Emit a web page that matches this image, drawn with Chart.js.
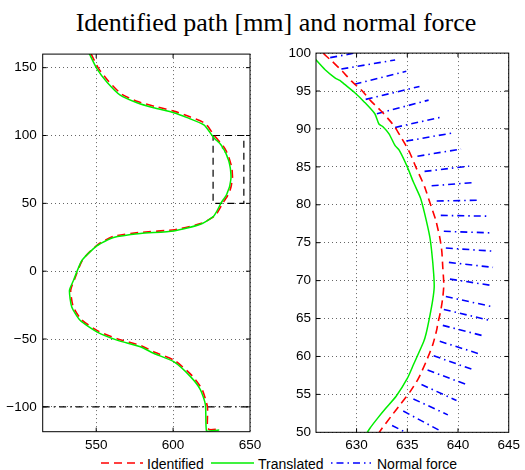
<!DOCTYPE html>
<html>
<head>
<meta charset="utf-8">
<title>Identified path [mm] and normal force</title>
<script src="https://cdn.jsdelivr.net/npm/chart.js@4.4.0/dist/chart.umd.min.js"></script>
<style>
  body { margin: 0; background: #fff; }
  #wrap { position: relative; width: 525px; height: 470px; overflow: hidden; font-family: "Liberation Sans", Arial, sans-serif; color: #000; }
  #titulo { position: absolute; left: 26px; top: 8px; width: 500px; text-align: center; white-space: nowrap;
            font-family: "Liberation Serif", "Times New Roman", serif; font-size: 26px; line-height: 30px; }
  canvas { position: absolute; }
  .muestra { position: absolute; top: 458px; }
  .etiqueta { position: absolute; top: 455px; font-size: 14px; line-height: 18px; white-space: nowrap; }
</style>
</head>
<body>
<div id="wrap">
  <div id="titulo">Identified path [mm] and normal force</div>
  <canvas id="graficoIzq" width="270" height="415" style="left:0px; top:40px; width:270px; height:415px;"></canvas>
  <canvas id="graficoDer" width="255" height="415" style="left:270px; top:40px; width:255px; height:415px;"></canvas>

  <svg class="muestra" style="left:101px" width="42" height="10"><line x1="0" y1="5" x2="42" y2="5" stroke="#ff0000" stroke-width="1.6" stroke-dasharray="8 5"/></svg>
  <div class="etiqueta" style="left:147px">Identified</div>
  <svg class="muestra" style="left:211px" width="43" height="10"><line x1="0" y1="5" x2="43" y2="5" stroke="#00ee00" stroke-width="1.5"/></svg>
  <div class="etiqueta" style="left:258px">Translated</div>
  <svg class="muestra" style="left:331px" width="40" height="10"><line x1="0" y1="5" x2="40" y2="5" stroke="#0000ff" stroke-width="1.6" stroke-dasharray="1.5 4 7 4"/></svg>
  <div class="etiqueta" style="left:377px">Normal force</div>
</div>

<script>
// Datos (mm)

// Trayectoria identificada (roja, discontinua)
const identX = [546.5, 551.5, 558.0, 566.5, 577.0, 588.0, 601.0, 610.0, 621.0, 626.7, 627.6, 628.6, 629.5, 630.5, 631.4, 632.4, 633.4, 633.8, 634.3, 634.7, 635.3, 635.9, 636.7, 637.2, 637.8, 638.2, 638.4, 638.5, 638.6, 638.5, 638.3, 638.0, 637.9, 637.5, 636.85, 636.1, 635.3, 634.3, 633.4, 632.5, 627.5, 618.5, 601.0, 579.0, 561.5, 551.0, 541.2, 535.8, 533.4, 535.0, 540.3, 551.0, 564.0, 579.3, 588.0, 601.2, 612.3, 618.8, 622.3, 622.3, 624.0, 630.5];
const identY = [160.5, 149.5, 140.0, 130.5, 125.0, 121.5, 117.8, 114.2, 108.8, 100.0, 98.9, 97.6, 96.3, 95.1, 93.7, 92.4, 90.9, 90.2, 89.1, 88.2, 86.7, 84.8, 82.4, 80.4, 78.0, 75.7, 73.9, 71.7, 69.5, 67.8, 66.05, 64.3, 63.5, 61.5, 59.3, 57.1, 55.4, 53.65, 52.1, 50.5, 41.2, 35.3, 30.6, 28.6, 25.8, 19.6, 8.5, -6.2, -14.0, -26.0, -35.6, -44.0, -50.0, -54.9, -59.7, -66.0, -77.0, -87.0, -100.0, -115.5, -116.8, -116.3];

// Trayectoria trasladada (verde, continua)
const trasX = [545.4, 550.4, 556.9, 565.6, 576.5, 587.3, 600.4, 609.1, 620.0, 625.4, 626.0, 626.9, 627.9, 628.35, 628.8, 629.8, 630.8, 631.8, 632.2, 632.6, 633.2, 633.8, 634.2, 635.0, 635.6, 636.3, 636.7, 637.2, 637.4, 637.6, 637.65, 637.5, 637.2, 636.85, 636.6, 635.6, 635.0, 633.9, 632.9, 632.1, 631.3, 626.5, 617.8, 600.4, 578.7, 561.3, 550.4, 540.6, 535.2, 532.6, 534.1, 539.5, 550.4, 563.5, 578.7, 587.3, 600.4, 611.3, 617.8, 621.0, 621.7, 625.0, 630.0];
const trasY = [160.5, 149.3, 139.5, 129.8, 124.2, 120.5, 116.8, 113.2, 107.8, 100.0, 99.1, 97.8, 96.7, 96.4, 95.9, 94.8, 93.5, 92.0, 90.65, 90.3, 89.35, 87.8, 87.2, 85.0, 83.0, 80.9, 78.9, 75.9, 73.9, 70.9, 69.1, 67.4, 65.2, 63.0, 61.9, 58.9, 57.1, 54.75, 53.2, 51.9, 50.5, 40.7, 34.6, 29.7, 27.7, 24.8, 18.7, 7.7, -6.9, -14.2, -26.4, -36.2, -44.7, -50.8, -55.7, -60.5, -66.7, -77.7, -87.4, -98.4, -117.8, -117.6, -117.1];

// Fuerza normal: segmentos (inicio -> fin)
const fuerzaX0 = [627.4, 628.5, 629.8, 630.9, 632.0, 633.8, 634.9, 636.0, 636.7, 637.4, 637.9, 638.3, 638.6, 638.8, 639.1, 639.2, 638.8, 638.6, 638.5, 638.2, 637.6, 637.0, 636.4, 635.6, 634.6, 633.5];
const fuerzaY0 = [99.4, 97.9, 95.9, 93.9, 92.0, 90.2, 88.4, 86.4, 84.4, 82.5, 80.5, 78.6, 76.5, 74.3, 72.4, 70.2, 67.9, 66.2, 64.1, 62.0, 60.1, 58.2, 56.3, 54.4, 52.8, 50.9];
const fuerzaX1 = [632.6, 633.8, 634.9, 636.2, 637.1, 638.5, 639.6, 640.3, 641.1, 641.7, 642.2, 642.8, 643.1, 643.3, 643.45, 643.4, 643.25, 643.0, 642.7, 642.2, 641.6, 640.85, 639.85, 639.0, 638.1, 636.9];
const fuerzaY1 = [100.7, 99.1, 97.6, 95.6, 93.8, 91.6, 89.5, 87.35, 85.1, 82.95, 80.6, 78.5, 76.3, 73.9, 71.75, 69.35, 66.6, 64.8, 62.65, 60.3, 58.2, 56.3, 54.2, 52.3, 50.3, 48.6];

// Líneas de referencia del gráfico izquierdo
const lineaRefX = [515.2, 650];
const lineaRefY = [-100, -100];
const cajaX = [626, 646, 646, 626, 626];
const cajaY = [100, 100, 50, 50, 100];

// Ejes y marcas
const izqLimX = [515.2, 650];
const izqLimY = [-118.3, 160];
const izqTicksX = [550, 600, 650];
const izqTicksY = [-100, -50, 0, 50, 100, 150];
const derLimX = [626, 645];
const derLimY = [50, 100];
const derTicksX = [630, 635, 640, 645];
const derTicksY = [50, 55, 60, 65, 70, 75, 80, 85, 90, 95, 100];

const FUENTE = '"Liberation Sans", Arial, sans-serif';

function puntos(xs, ys) {
  return xs.map((x, i) => ({ x: x, y: ys[i] }));
}

// Segmentos separados por huecos (null corta la línea)
function segmentos(x0, y0, x1, y1) {
  const out = [];
  x0.forEach((x, i) => {
    out.push({ x: x, y: y0[i] }, { x: x1[i], y: y1[i] }, { x: null, y: null });
  });
  return out;
}

function formato(v) {
  return v < 0 ? '\u2212' + Math.abs(v) : String(v);
}

// Caja negra alrededor del área y marcas hacia dentro (estilo MATLAB)
const marco = {
  id: 'marco',
  afterDatasetsDraw(chart) {
    const { ctx, chartArea: a, scales } = chart;
    const largo = 4;
    ctx.save();
    ctx.strokeStyle = '#000';
    ctx.lineWidth = 1;
    ctx.setLineDash([]);
    ctx.beginPath();
    scales.x.ticks.forEach(t => {
      const px = scales.x.getPixelForValue(t.value);
      if (px <= a.left + 0.5 || px >= a.right - 0.5) return;
      ctx.moveTo(px, a.bottom); ctx.lineTo(px, a.bottom - largo);
      ctx.moveTo(px, a.top); ctx.lineTo(px, a.top + largo);
    });
    scales.y.ticks.forEach(t => {
      const py = scales.y.getPixelForValue(t.value);
      if (py <= a.top + 0.5 || py >= a.bottom - 0.5) return;
      ctx.moveTo(a.left, py); ctx.lineTo(a.left + largo, py);
      ctx.moveTo(a.right, py); ctx.lineTo(a.right - largo, py);
    });
    ctx.stroke();
    ctx.strokeRect(a.left, a.top, a.right - a.left, a.bottom - a.top);
    ctx.restore();
  }
};

function eje(lim, ticks, esX, tam, padding) {
  return {
    type: 'linear',
    position: esX ? 'bottom' : 'left',
    min: lim[0],
    max: lim[1],
    grid: { color: 'rgba(0,0,0,0.6)', lineWidth: 1, drawTicks: false },
    border: { display: false, dash: [1, 3] },
    ticks: {
      color: '#000',
      font: { family: FUENTE, size: 13.5 },
      padding: padding,
      autoSkip: false,
      maxRotation: 0,
      callback: v => formato(v)
    },
    afterBuildTicks: s => { s.ticks = ticks.map(v => ({ value: v })); },
    afterFit: s => { if (esX) s.height = tam; else s.width = tam; }
  };
}

function crearGrafico(id, datasets, ejes, pad) {
  const ctx = document.getElementById(id).getContext('2d');
  return new Chart(ctx, {
    type: 'line',
    data: { datasets: datasets },
    options: {
      responsive: false,
      animation: false,
      events: [],
      parsing: true,
      layout: { padding: pad },
      elements: { point: { radius: 0 } },
      plugins: { legend: { display: false }, tooltip: { enabled: false }, title: { display: false } },
      scales: ejes
    },
    plugins: [marco]
  });
}

function lineaTrasladada() {
  return { data: puntos(trasX, trasY), borderColor: '#00ee00', borderWidth: 1.5, tension: 0.2, fill: false };
}
function lineaIdentificada() {
  return { data: puntos(identX, identY), borderColor: '#ff0000', borderWidth: 1.6, borderDash: [8, 5], tension: 0.2, fill: false };
}

// Gráfico izquierdo: trayectoria completa
crearGrafico('graficoIzq', [
  lineaTrasladada(),
  lineaIdentificada(),
  { data: puntos(cajaX, cajaY), borderColor: '#000', borderWidth: 1.2, borderDash: [7, 5], tension: 0, fill: false },
  { data: puntos(lineaRefX, lineaRefY), borderColor: '#000', borderWidth: 1.2, borderDash: [7, 4, 1.5, 4], tension: 0, fill: false }
], {
  x: eje(izqLimX, izqTicksX, true, 23.3, 5),
  y: eje(izqLimY, izqTicksY, false, 42.7, 6)
}, { left: 0, right: 20, top: 12, bottom: 0 });

// Gráfico derecho: detalle con la fuerza normal
crearGrafico('graficoDer', [
  lineaTrasladada(),
  lineaIdentificada(),
  { data: segmentos(fuerzaX0, fuerzaY0, fuerzaX1, fuerzaY1), borderColor: '#0000ff', borderWidth: 1.6, borderDash: [7, 4, 1.5, 4], tension: 0, spanGaps: false, fill: false }
], {
  x: eje(derLimX, derTicksX, true, 22.7, 5),
  y: eje(derLimY, derTicksY, false, 46, 5)
}, { left: 0, right: 13, top: 11.7, bottom: 0 });
</script>
</body>
</html>
